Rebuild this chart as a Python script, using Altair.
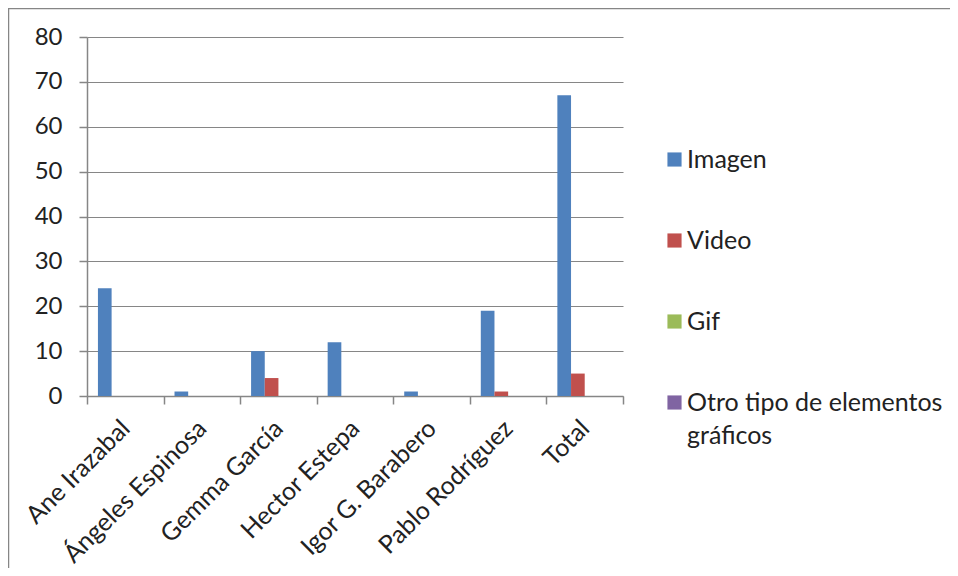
import altair as alt
import pandas as pd

categories = ["Ane Irazabal", "Ángeles Espinosa", "Gemma García", "Hector Estepa",
              "Igor G. Barabero", "Pablo Rodríguez", "Total"]
series = ["Imagen", "Video", "Gif", "Otro tipo de elementos gráficos"]
imagen = [24, 1, 10, 12, 1, 19, 67]
video = [0, 0, 4, 0, 0, 1, 5]
gif = [0, 0, 0, 0, 0, 0, 0]
otro = [0, 0, 0, 0, 0, 0, 0]
colors = ["#4F81BD", "#C0504D", "#9BBB59", "#8064A2"]
y_ticks = [0, 10, 20, 30, 40, 50, 60, 70, 80]

rows = []
for s, vals in zip(series, [imagen, video, gif, otro]):
    for c, v in zip(categories, vals):
        rows.append({"cat": c, "serie": s, "valor": v})
df = pd.DataFrame(rows)

FONT = "Lato"
GRID = "#868686"
TEXT = "#222222"
LONG = "Otro tipo de elementos gráficos"

bars = alt.Chart(df).mark_bar().encode(
    x=alt.X("cat:N", sort=categories,
            scale=alt.Scale(paddingInner=0, paddingOuter=0),
            axis=alt.Axis(title=None, labelAngle=-45, labelAlign="right",
                          labelBaseline="middle", tickBand="extent",
                          tickSize=8, labelPadding=20, grid=False,
                          labelFontSize=25, labelLimit=400)),
    xOffset=alt.XOffset("serie:N", sort=series,
                        scale=alt.Scale(paddingInner=0, paddingOuter=0.8)),
    y=alt.Y("valor:Q", scale=alt.Scale(domain=[0, 80]),
            axis=alt.Axis(title=None, values=y_ticks, grid=True, tickSize=8,
                          labelPadding=17, labelFontSize=24)),
    color=alt.Color("serie:N", sort=series,
                    scale=alt.Scale(domain=series, range=colors),
                    legend=alt.Legend(
                        title=None, orient="none", legendX=575, legendY=110,
                        symbolType="square", symbolSize=200, symbolStrokeWidth=0,
                        labelFont=FONT, labelFontSize=25, labelColor=TEXT,
                        rowPadding=55, labelOffset=0, labelLimit=500, padding=0,
                        labelBaseline="middle",
                        labelExpr=f"datum.label == '{LONG}' ? ['Otro tipo de elementos', 'gráficos'] : datum.label",
                    )),
)

frame = alt.Chart(pd.DataFrame({"a": [0]})).mark_rect(
    fill="white", fillOpacity=0, stroke=GRID, strokeWidth=1.5
).encode(x=alt.value(-78.5), x2=alt.value(1000), y=alt.value(-28.5), y2=alt.value(700))

chart = alt.layer(bars, frame).properties(
    width=536, height=359,
    padding={"left": 79, "top": 29, "right": 327, "bottom": 172},
    autosize=alt.AutoSizeParams(type="none"),
).configure(
    style={"guide-label": {"lineHeight": 33}}
).configure_view(stroke=None).configure_axis(
    labelFont=FONT, labelColor=TEXT, domainColor=GRID, tickColor=GRID,
    gridColor=GRID, domainWidth=1.5, tickWidth=1.5, gridWidth=1.2,
)

chart.save("out.html", embed_options={"renderer": "svg", "actions": False})
